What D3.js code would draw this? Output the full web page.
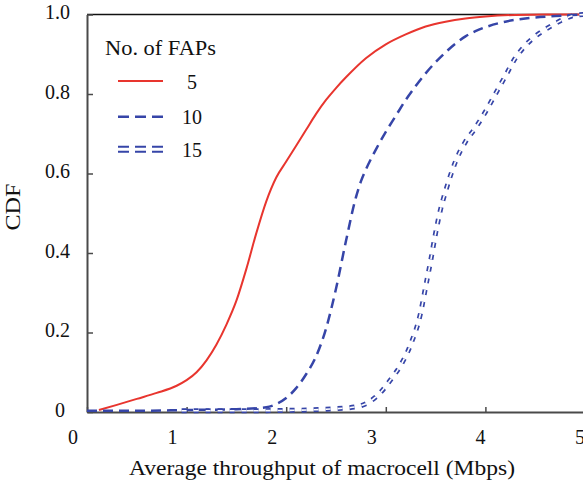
<!DOCTYPE html>
<html>
<head>
<meta charset="utf-8">
<script src="https://cdn.jsdelivr.net/npm/d3@7"></script>
<style>
  html, body { margin: 0; padding: 0; background: #fff; }
  svg { display: block; }
  text { font-family: "Liberation Serif", "Times New Roman", serif; fill: #111; }
</style>
</head>
<body>
<svg id="chart" width="583" height="488"></svg>
<script>
// Average macrocell throughput (Mbps) vs. CDF, per number of FAPs
const fap5 = [
  [0.12, 0.005], [0.3, 0.018], [0.5, 0.033], [0.7, 0.048], [0.9, 0.066], [1.0, 0.08],
  [1.1, 0.1], [1.2, 0.13], [1.3, 0.17], [1.4, 0.22], [1.5, 0.28], [1.6, 0.36],
  [1.7, 0.45], [1.8, 0.53], [1.9, 0.59], [2.0, 0.63], [2.1, 0.67], [2.2, 0.71],
  [2.3, 0.75], [2.4, 0.785], [2.5, 0.815], [2.6, 0.842], [2.8, 0.89], [3.0, 0.925],
  [3.2, 0.95], [3.4, 0.97], [3.6, 0.982], [3.8, 0.99], [4.0, 0.995], [4.3, 0.999],
  [4.6, 1.0], [5.0, 1.0]
];
const fap10 = [
  [0.0, 0.003], [0.5, 0.003], [1.0, 0.005], [1.5, 0.007], [1.8, 0.012], [1.9, 0.02],
  [2.0, 0.035], [2.1, 0.06], [2.2, 0.095], [2.3, 0.14], [2.4, 0.21], [2.5, 0.31],
  [2.6, 0.43], [2.7, 0.54], [2.75, 0.58], [2.8, 0.61], [2.9, 0.66], [3.0, 0.705],
  [3.1, 0.745], [3.2, 0.785], [3.3, 0.82], [3.4, 0.852], [3.5, 0.88], [3.6, 0.905],
  [3.7, 0.927], [3.8, 0.945], [3.9, 0.958], [4.0, 0.968], [4.2, 0.982], [4.4, 0.99],
  [4.7, 0.996], [5.0, 1.0]
];
const fap15 = [
  [0.95, 0.003], [1.5, 0.003], [2.0, 0.004], [2.4, 0.007], [2.7, 0.013], [2.85, 0.028],
  [2.95, 0.05], [3.05, 0.082], [3.15, 0.118], [3.25, 0.17], [3.35, 0.25], [3.4, 0.315],
  [3.45, 0.38], [3.5, 0.45], [3.55, 0.51], [3.6, 0.555], [3.7, 0.63], [3.8, 0.68],
  [3.9, 0.715], [4.0, 0.755], [4.1, 0.8], [4.2, 0.845], [4.3, 0.89], [4.4, 0.922],
  [4.5, 0.945], [4.6, 0.962], [4.7, 0.977], [4.8, 0.99], [4.9, 0.998], [5.0, 1.0]
];
const xTicks = [0, 1, 2, 3, 4, 5];
const yTicks = [0, 0.2, 0.4, 0.6, 0.8, 1.0];
const yTickLabels = ["0", "0.2", "0.4", "0.6", "0.8", "1.0"];
const seriesNames = ["5", "10", "15"];
const legendTitle = "No. of FAPs";
const xTitle = "Average throughput of macrocell (Mbps)";
const yTitle = "CDF";

const red = "#e8352e";
const blue = "#3645a8";
const axisColor = "#4a4a4a";

const svg = d3.select("#chart");
const x = d3.scaleLinear().domain([0, 5]).range([87, 585]);
const y = d3.scaleLinear().domain([0, 1]).range([412, 14.5]);

// frame: top rule plus left and bottom axes
svg.append("line").attr("x1", x(0)).attr("x2", 583).attr("y1", y(1)).attr("y2", y(1))
  .attr("stroke", "#111").attr("stroke-width", 1.6);

const xAxis = svg.append("g").attr("transform", `translate(0,${y(0)})`)
  .call(d3.axisBottom(x).tickValues(xTicks).tickSizeInner(-5).tickSizeOuter(0).tickFormat(""));
xAxis.select(".domain").attr("stroke", axisColor).attr("stroke-width", 2);
xAxis.selectAll(".tick line").attr("stroke", axisColor).attr("stroke-width", 1.5);

const yAxis = svg.append("g").attr("transform", `translate(${x(0)},0)`)
  .call(d3.axisLeft(y).tickValues(yTicks).tickSizeInner(-6).tickSizeOuter(0).tickFormat(""));
yAxis.select(".domain").attr("stroke", axisColor).attr("stroke-width", 2);
yAxis.selectAll(".tick line").attr("stroke", axisColor).attr("stroke-width", 1.5);

// tick labels
const xLabelShift = v => (v <= 3 ? -14 : -5);
svg.append("g").selectAll("text").data(xTicks).join("text")
  .attr("x", d => x(d) + xLabelShift(d)).attr("y", 444)
  .attr("text-anchor", "middle").attr("font-size", 20)
  .text(d => d);

svg.append("g").selectAll("text").data(yTicks).join("text")
  .attr("x", d => (d === 0 ? 65 : 70)).attr("y", d => y(d) + 4.5)
  .attr("text-anchor", "end").attr("font-size", 20)
  .text((d, i) => yTickLabels[i]);

// axis titles (wide serif set, stretched to the roman face's width)
svg.append("text").attr("x", 322).attr("y", 475).attr("text-anchor", "middle")
  .attr("font-size", 21).attr("textLength", 386).attr("lengthAdjust", "spacingAndGlyphs")
  .text(xTitle);
svg.append("text").attr("transform", "translate(20,207) rotate(-90)")
  .attr("text-anchor", "middle").attr("font-size", 21)
  .attr("textLength", 47).attr("lengthAdjust", "spacingAndGlyphs").text(yTitle);

// curves
const line = d3.line().x(d => x(d[0])).y(d => y(d[1])).curve(d3.curveMonotoneX);

svg.append("path").datum(fap5).attr("d", line)
  .attr("fill", "none").attr("stroke", red).attr("stroke-width", 2);

svg.append("path").datum(fap10).attr("d", line)
  .attr("fill", "none").attr("stroke", blue).attr("stroke-width", 2.5)
  .attr("stroke-dasharray", "10,6");

// double dashed line: wide blue dash with a white core
svg.append("path").datum(fap15).attr("d", line)
  .attr("fill", "none").attr("stroke", blue).attr("stroke-width", 5)
  .attr("stroke-dasharray", "5,7");
svg.append("path").datum(fap15).attr("d", line)
  .attr("fill", "none").attr("stroke", "#fff").attr("stroke-width", 1.6)
  .attr("stroke-dasharray", "5,7");

// legend
const lg = svg.append("g");
lg.append("text").attr("x", 105).attr("y", 55).attr("font-size", 20)
  .attr("textLength", 111).attr("lengthAdjust", "spacingAndGlyphs").text(legendTitle);
const rows = [81, 116.7, 149.2];
lg.append("line").attr("x1", 118).attr("x2", 163).attr("y1", rows[0]).attr("y2", rows[0])
  .attr("stroke", red).attr("stroke-width", 2);
lg.append("line").attr("x1", 118).attr("x2", 163).attr("y1", rows[1]).attr("y2", rows[1])
  .attr("stroke", blue).attr("stroke-width", 2.5).attr("stroke-dasharray", "11,6");
[-2.5, 2.5].forEach(off => {
  lg.append("line").attr("x1", 118).attr("x2", 163).attr("y1", rows[2] + off).attr("y2", rows[2] + off)
    .attr("stroke", blue).attr("stroke-width", 2).attr("stroke-dasharray", "11,6");
});
lg.selectAll("text.lab").data(seriesNames).join("text").attr("class", "lab")
  .attr("x", 192).attr("y", (d, i) => rows[i] + 7.5)
  .attr("text-anchor", "middle").attr("font-size", 20).text(d => d);
</script>
</body>
</html>
